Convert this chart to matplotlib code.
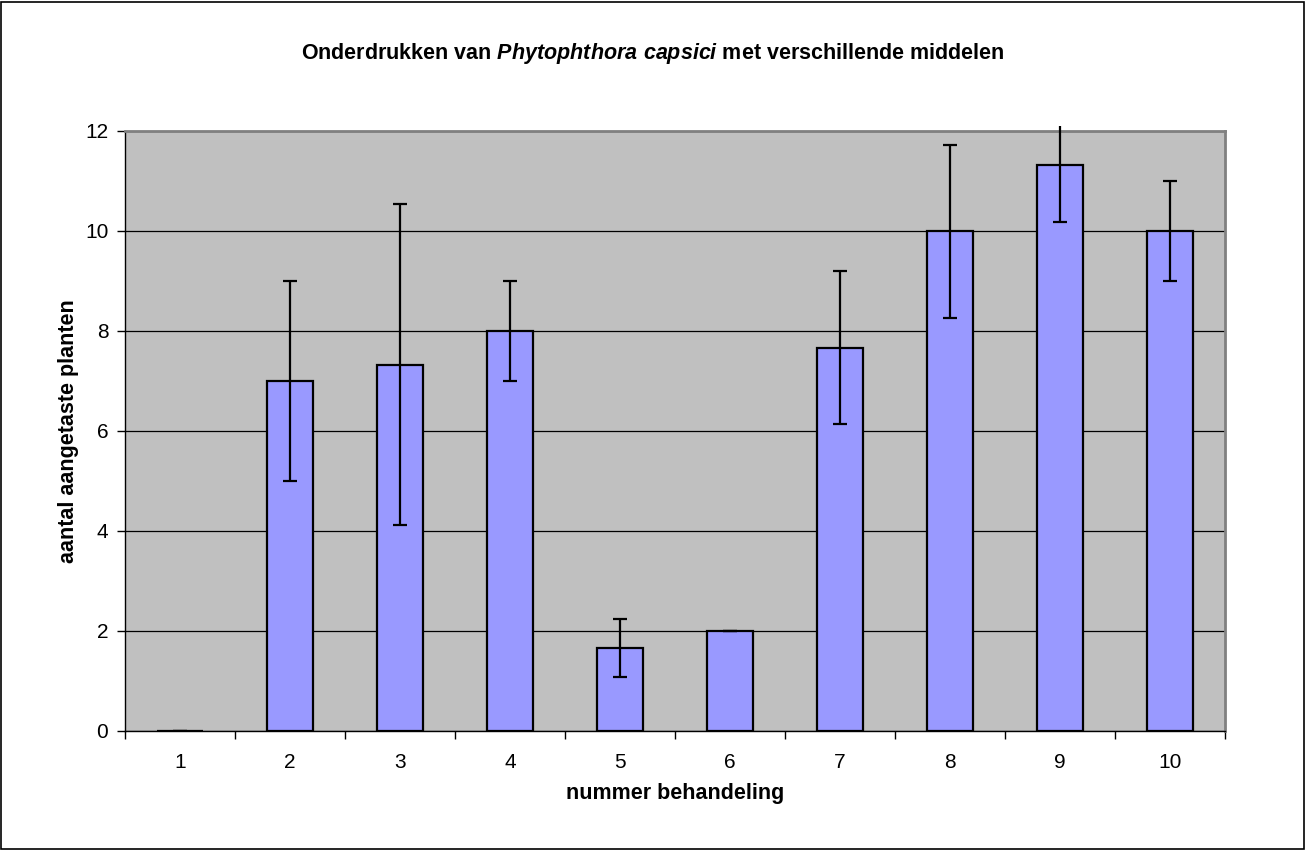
import numpy as np
import matplotlib
matplotlib.use("Agg")
import matplotlib.pyplot as plt
from matplotlib.patches import Rectangle

plt.rcParams['font.family'] = ['Liberation Sans', 'DejaVu Sans']
plt.rcParams['mathtext.fontset'] = 'custom'
plt.rcParams['mathtext.rm'] = 'Liberation Sans:bold'
plt.rcParams['mathtext.it'] = 'Liberation Sans:italic:bold'

# data
behandeling = ['1', '2', '3', '4', '5', '6', '7', '8', '9', '10']
gemiddelde = [0, 7.0, 7.33, 8.0, 1.67, 2.0, 7.67, 10.0, 11.33, 10.0]
fout = [0, 2.0, 3.21, 1.0, 0.58, 0, 1.53, 1.73, 1.15, 1.0]

fig = plt.figure(figsize=(13.05, 8.5), dpi=100)
ax = fig.add_axes([125 / 1305, 1 - 731 / 850, 1100 / 1305, 600 / 850])

# border round the whole figure
fig.patches.append(Rectangle((0.001, 0.001), 0.998, 0.997, transform=fig.transFigure,
                             fill=False, edgecolor='black', linewidth=1.2))

x = np.arange(len(behandeling))
ax.set_facecolor('#C0C0C0')
ax.set_axisbelow(True)
ax.yaxis.grid(True, color='black', linewidth=0.9)

ax.bar(x, gemiddelde, width=0.41, color='#9999FF', edgecolor='black', linewidth=1.6, zorder=2)

eb = ax.errorbar(x, gemiddelde, yerr=fout, fmt='none', ecolor='black',
                 elinewidth=1.6, capsize=5, capthick=1.6, zorder=3)
# error bars may run a few pixels past the top of the plot area, like in the original
clip = Rectangle((0, 0), 1, 1 + 5 / 600, transform=ax.transAxes, visible=False)
ax.add_patch(clip)
for art in list(eb.lines[1]) + list(eb.lines[2]):
    art.set_clip_path(clip)

ax.set_xlim(-0.5, len(behandeling) - 0.5)
ax.set_ylim(0, 12)
ax.set_yticks(np.arange(0, 13, 2))
ax.set_xticks(x)
ax.set_xticklabels(behandeling)
ax.set_xticks(np.arange(-0.5, len(behandeling), 1), minor=True)
ax.tick_params(axis='x', which='major', length=0, labelsize=15, pad=16)
ax.tick_params(axis='x', which='minor', length=6, direction='out', width=1)
ax.tick_params(axis='y', length=6, direction='out', width=1, labelsize=15, pad=6)

for side in ['top', 'right']:
    ax.spines[side].set_color('#808080')
    ax.spines[side].set_linewidth(2)
for side in ['left', 'bottom']:
    ax.spines[side].set_color('black')
    ax.spines[side].set_linewidth(1)

ax.set_xlabel('nummer behandeling', fontsize=15.5, fontweight='bold', labelpad=8)
ax.set_ylabel('aantal aangetaste planten', fontsize=15.5, fontweight='bold', labelpad=4)

fig.text(0.5, 1 - 53 / 850,
         r"Onderdrukken van $Phytophthora\ capsici$ met verschillende middelen",
         ha='center', va='center', fontsize=15.5, fontweight='bold')

fig.savefig('out.png', dpi=100)
